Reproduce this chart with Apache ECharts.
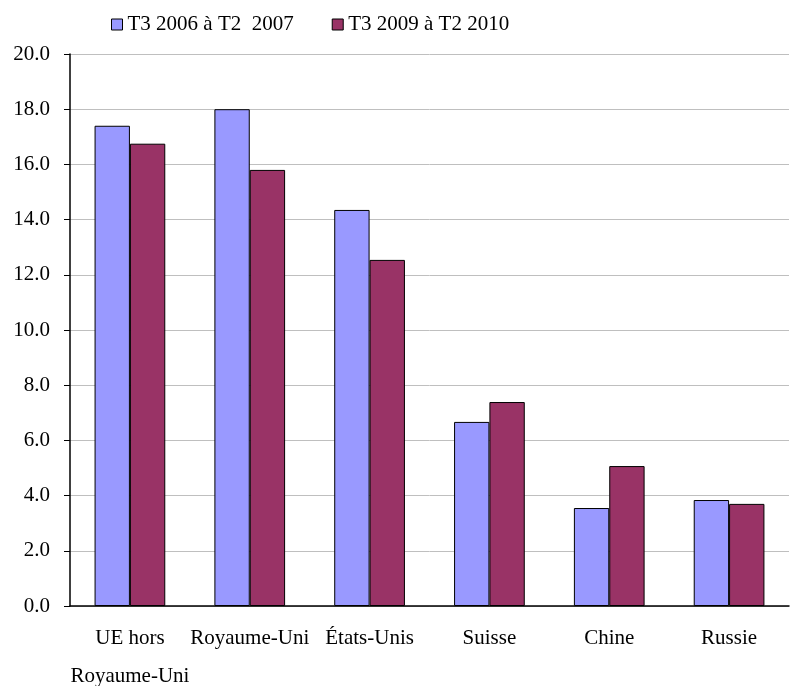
<!DOCTYPE html>
<html><head><meta charset="utf-8">
<script src="https://cdn.jsdelivr.net/npm/echarts@6/dist/echarts.min.js"></script>
<style>html,body{margin:0;padding:0;background:#fff}#c{width:790px;height:686px}</style>
</head><body><div id="c"></div>
<script>
const categories = ['UE hors\nRoyaume-Uni', 'Royaume-Uni', 'États-Unis', 'Suisse', 'Chine', 'Russie'];
const seriesNames = ['T3 2006 à T2  2007', 'T3 2009 à T2 2010'];
const values2006 = [17.4, 18.0, 14.35, 6.67, 3.55, 3.84];
const values2009 = [16.75, 15.8, 12.54, 7.39, 5.07, 3.70];
const colors = ['#9999FF', '#993366'];
const font = 'Liberation Serif, Times New Roman, serif';

const chart = echarts.init(document.getElementById('c'));
chart.setOption({
  animation: false,
  textStyle: { fontFamily: font },
  legend: {
    top: 9, left: 106, itemGap: 38, itemWidth: 11, itemHeight: 11,
    icon: 'rect',
    textStyle: { fontFamily: font, fontSize: 21, color: '#000' },
    data: seriesNames.map((n, i) => ({ name: n, itemStyle: { borderColor: '#000', borderWidth: 1 } }))
  },
  grid: { left: 70, right: 1, top: 54, bottom: 80, containLabel: false, outerBoundsMode: 'none' },
  xAxis: {
    type: 'category', data: categories,
    axisLine: { lineStyle: { color: '#000', width: 1.5 } },
    axisTick: { show: false },
    axisLabel: { color: '#000', fontSize: 21, fontFamily: font, margin: 13, lineHeight: 38, interval: 0 }
  },
  yAxis: {
    type: 'value', min: 0, max: 20, interval: 2,
    axisLine: { show: true, lineStyle: { color: '#000', width: 1.5 } },
    axisTick: { show: true, length: 6, lineStyle: { color: '#000' } },
    splitLine: { lineStyle: { color: '#BFBFBF' } },
    axisLabel: { color: '#000', fontSize: 21, fontFamily: font, margin: 20, formatter: v => v.toFixed(1) }
  },
  series: [
    { name: seriesNames[0], type: 'bar', data: values2006, barGap: '0%', barCategoryGap: '41%',
      itemStyle: { color: colors[0], borderColor: '#000', borderWidth: 1 } },
    { name: seriesNames[1], type: 'bar', data: values2009, barGap: '0%', barCategoryGap: '41%',
      itemStyle: { color: colors[1], borderColor: '#000', borderWidth: 1 } }
  ]
});
</script></body></html>
